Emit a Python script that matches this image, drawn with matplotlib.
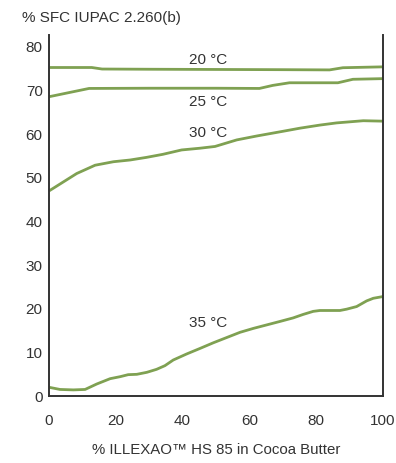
import matplotlib
matplotlib.use("Agg")
import matplotlib.pyplot as plt

plt.rcParams['font.family'] = ['Liberation Sans', 'DejaVu Sans']

x20 = [0, 12.8, 15.9, 30, 50, 70, 84, 88, 100]
y20 = [75.3, 75.3, 74.95, 74.9, 74.85, 74.8, 74.75, 75.25, 75.45]

x25 = [0, 12, 30, 50, 63, 67, 72, 86.5, 91, 100]
y25 = [68.6, 70.5, 70.55, 70.55, 70.5, 71.2, 71.8, 71.8, 72.6, 72.75]

x30 = [0, 8.3, 13.8, 19.3, 24.3, 29.2, 34.1, 39.7, 45.2, 49.7, 56.2, 62.2,
       70.2, 75.2, 81.1, 86.1, 94.1, 100]
y30 = [47.0, 51.0, 52.9, 53.7, 54.1, 54.7, 55.4, 56.4, 56.8, 57.2, 58.7, 59.6,
       60.7, 61.4, 62.1, 62.6, 63.1, 63.0]

x35 = [0, 3.3, 7.3, 10.8, 14.3, 18.3, 21.3, 23.7, 26.3, 29.3, 32.2, 34.7, 37.2,
       41.2, 45.2, 49.2, 53.2, 57.2, 61.2, 65.2, 69.2, 73.1, 76.1, 79.1, 81.1,
       85.1, 87.1, 89.1, 92.1, 95.1, 97.1, 100]
y35 = [2.0, 1.5, 1.4, 1.5, 2.75, 3.97, 4.43, 4.89, 4.97, 5.43, 6.11, 6.95, 8.25,
       9.63, 10.9, 12.2, 13.4, 14.6, 15.5, 16.3, 17.1, 17.9, 18.7, 19.4, 19.6,
       19.6, 19.6, 19.9, 20.5, 21.8, 22.4, 22.8]

labels = ["20 °C", "25 °C", "30 °C", "35 °C"]
label_y = [77.0, 67.5, 60.2, 16.65]

xticks = [0, 20, 40, 60, 80, 100]
yticks = [0, 10, 20, 30, 40, 50, 60, 70, 80]

color = "#7fa152"
txt = "#333333"

fig = plt.figure(figsize=(3.96, 4.63), dpi=100)
ax = fig.add_axes([49/396, 1-396/463, (383-49)/396, (396-35)/463])

for xs, ys in [(x20, y20), (x25, y25), (x30, y30), (x35, y35)]:
    ax.plot(xs, ys, color=color, lw=2.0, solid_joinstyle='round', solid_capstyle='butt', clip_on=False)

for lab, ly in zip(labels, label_y):
    ax.text(47.6, ly, lab, ha='center', va='center', fontsize=11, color=txt)

ax.set_xlim(0, 100)
ax.set_ylim(0, 82.75)
ax.set_xticks(xticks)
ax.set_yticks(yticks)
ax.tick_params(length=0, labelsize=11, colors=txt, pad=13)
ax.tick_params(axis='y', pad=4.5)
ax.spines['top'].set_visible(False)
for s in ['left', 'right', 'bottom']:
    ax.spines[s].set_color(txt)
    ax.spines[s].set_linewidth(1.4)

ax.set_xlabel("% ILLEXAO™ HS 85 in Cocoa Butter", fontsize=10.8, color=txt, labelpad=11)
fig.text(22/396, 1-18/463, "% SFC IUPAC 2.260(b)", fontsize=11, color=txt, ha='left', va='center')

fig.savefig("out.png", dpi=100)
